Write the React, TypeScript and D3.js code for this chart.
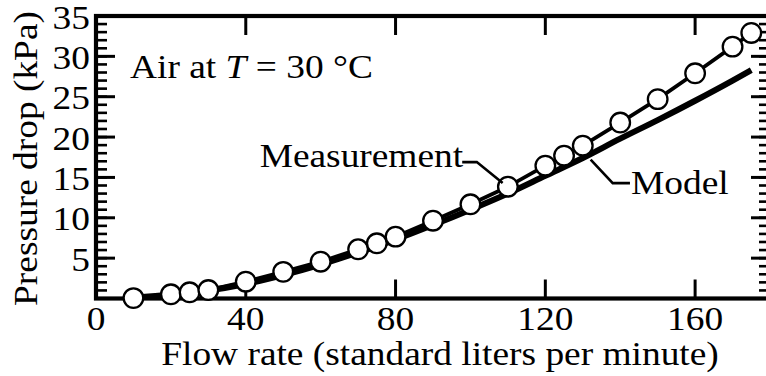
import React from "react";
import * as d3 from "d3";

const measFlow = [10, 20, 25, 30, 40, 50, 60, 70, 75, 80, 90, 100, 110, 120, 125, 130, 140, 150, 160, 170, 175];
const measDrop = [0.05, 0.52, 0.77, 1.05, 2.08, 3.3, 4.56, 6.1, 6.84, 7.66, 9.64, 11.67, 13.85, 16.46, 17.7, 18.94, 21.8, 24.7, 27.9, 31.2, 32.9];

const modelFlow = [10, 20, 30, 40, 50, 60, 70, 80, 90, 100, 110, 120, 130, 140, 150, 160, 170, 175];
const modelDrop = [0.1, 0.5, 1.0, 1.8, 2.9, 4.2, 5.7, 7.3, 9.1, 11.0, 13.0, 15.2, 17.4, 19.8, 22.1, 24.5, 27.0, 28.3];

const xTicks = [0, 40, 80, 120, 160];
const yTicks = [5, 10, 15, 20, 25, 30, 35];
const yMinor = d3.range(1, 35);

const W = 766;
const H = 376;
const FONT = "Liberation Serif, Times New Roman, Times, serif";
const FS = 34;
const SX = 1.1;

export default function App() {
  const x = d3.scaleLinear().domain([0, 180]).range([96, 770]);
  const y = d3.scaleLinear().domain([0, 35]).range([298.5, 16]);

  const meas = measFlow.map((f, i) => [f, measDrop[i]] as [number, number]);
  const model = modelFlow.map((f, i) => [f, modelDrop[i]] as [number, number]);

  const lineLin = d3.line<[number, number]>().x((d) => x(d[0])).y((d) => y(d[1]));
  const lineSmooth = d3
    .line<[number, number]>()
    .x((d) => x(d[0]))
    .y((d) => y(d[1]))
    .curve(d3.curveMonotoneX);

  const x0 = x(0);
  const x1 = x(180);
  const y0 = y(0);
  const y1 = y(35);

  const T = (px: number, py: number, content: React.ReactNode, anchor = "start", rot = 0, key?: any) => (
    <g key={key} transform={`translate(${px},${py}) rotate(${rot}) scale(${SX},1)`}>
      <text textAnchor={anchor} style={{ fontFamily: FONT, fontSize: FS }} fill="#000">
        {content}
      </text>
    </g>
  );

  const leaderMeas: [number, number][] = [
    [97.8, 16.9],
    [101.7, 16.9],
    [108.6, 14.3],
  ];
  const leaderModel: [number, number][] = [
    [142.6, 14.3],
    [138.0, 14.3],
    [132.1, 17.2],
  ];

  return (
    <svg
      width={W}
      height={H}
      style={{ position: "absolute", left: 0, top: 0, background: "#fff" }}
    >
      <rect x={0} y={0} width={W} height={H} fill="#fff" />
      {yMinor.map((v) => (
        <g key={"m" + v}>
          <line x1={x0} x2={x0 + 11} y1={y(v)} y2={y(v)} stroke="#000" strokeWidth={2.6} />
          <line x1={x1} x2={x1 - 11} y1={y(v)} y2={y(v)} stroke="#000" strokeWidth={2.6} />
        </g>
      ))}
      {yTicks.map((v) => (
        <g key={"y" + v}>
          <line x1={x0} x2={x0 + 19} y1={y(v)} y2={y(v)} stroke="#000" strokeWidth={3} />
          <line x1={x1} x2={x1 - 19} y1={y(v)} y2={y(v)} stroke="#000" strokeWidth={3} />
        </g>
      ))}
      {xTicks
        .filter((v) => v > 0)
        .map((v) => (
          <g key={"x" + v}>
            <line x1={x(v)} x2={x(v)} y1={y0} y2={y0 - 19} stroke="#000" strokeWidth={3} />
            <line x1={x(v)} x2={x(v)} y1={y1} y2={y1 + 19} stroke="#000" strokeWidth={3} />
          </g>
        ))}
      <rect x={x0} y={y1} width={x1 - x0} height={y0 - y1} fill="none" stroke="#000" strokeWidth={4.2} />

      {xTicks.map((v) => T(x(v), 330, String(v), "middle", 0, "xl" + v))}
      {yTicks.map((v) => T(90, y(v) + 12.5, String(v), "end", 0, "yl" + v))}

      {T(440, 365, "Flow rate (standard liters per minute)", "middle")}
      {T(37, 158.5, "Pressure drop (kPa)", "middle", -90)}

      <path d={lineSmooth(model) || ""} fill="none" stroke="#000" strokeWidth={6} strokeLinejoin="round" />
      <path d={lineLin(meas) || ""} fill="none" stroke="#000" strokeWidth={3.8} strokeLinejoin="round" />
      {meas.map((d, i) => (
        <circle key={"c" + i} cx={x(d[0])} cy={y(d[1])} r={9.8} fill="#fff" stroke="#000" strokeWidth={2.3} />
      ))}

      <path d={lineLin(leaderMeas) || ""} fill="none" stroke="#000" strokeWidth={2.6} />
      <path d={lineLin(leaderModel) || ""} fill="none" stroke="#000" strokeWidth={2.6} />
      {T(x(43.7), y(16.26), "Measurement", "start")}
      {T(x(142.9), y(12.95), "Model", "start")}
      {T(
        x(9.1),
        y(27.3),
        <>
          {"Air at "}
          <tspan fontStyle="italic">T</tspan>
          {" = 30 °C"}
        </>,
        "start"
      )}
    </svg>
  );
}
